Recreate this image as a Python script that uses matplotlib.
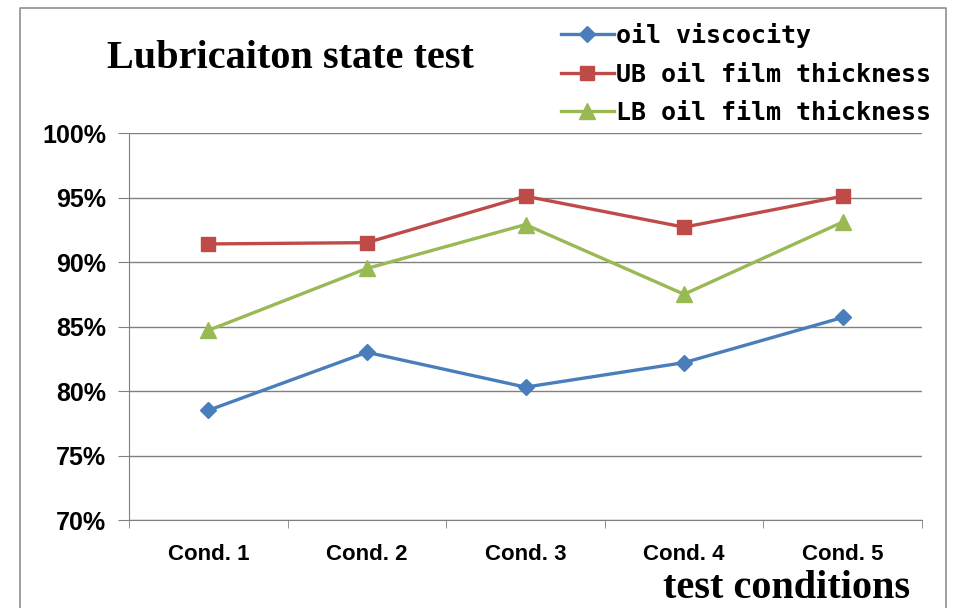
import matplotlib.pyplot as plt
from matplotlib.lines import Line2D
import numpy as np

conditions = ["Cond. 1", "Cond. 2", "Cond. 3", "Cond. 4", "Cond. 5"]
oil_viscocity = [78.5, 83.0, 80.3, 82.2, 85.7]
ub_thickness = [91.4, 91.5, 95.1, 92.7, 95.1]
lb_thickness = [84.7, 89.5, 92.9, 87.5, 93.1]
yticks = [70, 75, 80, 85, 90, 95, 100]

fig = plt.figure(figsize=(9.58, 6.08), dpi=100)
ax = fig.add_axes([129 / 958, 1 - 520 / 608, (922 - 129) / 958, (520 - 133) / 608])

x = np.arange(len(conditions))
ax.plot(x, oil_viscocity, color="#4A7EBB", lw=2.4, marker="D", ms=8.5, label="oil viscocity")
ax.plot(x, ub_thickness, color="#BE4B48", lw=2.4, marker="s", ms=10, label="UB oil film thickness")
ax.plot(x, lb_thickness, color="#98B954", lw=2.4, marker="^", ms=11, label="LB oil film thickness")

ax.set_xlim(-0.5, 4.5)
ax.set_ylim(70, 100)
ax.set_yticks(yticks)
ax.set_yticklabels([f"{v}%" for v in yticks], fontsize=18, fontweight="bold", family="Liberation Sans")
ax.set_xticks(x)
ax.set_xticklabels(conditions, fontsize=16, fontweight="bold", family="Liberation Sans")
ax.set_xticks(np.arange(-0.5, 5, 1), minor=True)
ax.tick_params(axis="x", which="major", length=0, pad=17)
ax.tick_params(axis="x", which="minor", length=6, color="#808080")
ax.tick_params(axis="y", length=8, color="#808080", pad=8.5)
ax.grid(axis="y", color="#808080", lw=1)
ax.set_axisbelow(True)
for s in ["top", "right"]:
    ax.spines[s].set_visible(False)
for s in ["left", "bottom"]:
    ax.spines[s].set_color("#808080")

fig.text(107 / 958, 1 - 58 / 608, "Lubricaiton state test", fontsize=29, fontweight="bold",
         family="Liberation Serif", va="center", ha="left")
fig.text(910 / 958, 1 - 588 / 608, "test conditions", fontsize=29, fontweight="bold",
         family="Liberation Serif", va="center", ha="right")

fig.legend(loc="upper left", bbox_to_anchor=(551 / 958, 1 - 13 / 608), frameon=False,
           prop={"family": "DejaVu Sans Mono", "weight": "bold", "size": 18},
           handlelength=2.1, handletextpad=0.1, labelspacing=0.58, borderaxespad=0)

# outer chart border
fig.add_artist(Line2D([20 / 958, 20 / 958, 946 / 958, 946 / 958],
                      [0, 1 - 8 / 608, 1 - 8 / 608, 0], color="#909090", lw=1.2))

plt.savefig("out.png", dpi=100)
